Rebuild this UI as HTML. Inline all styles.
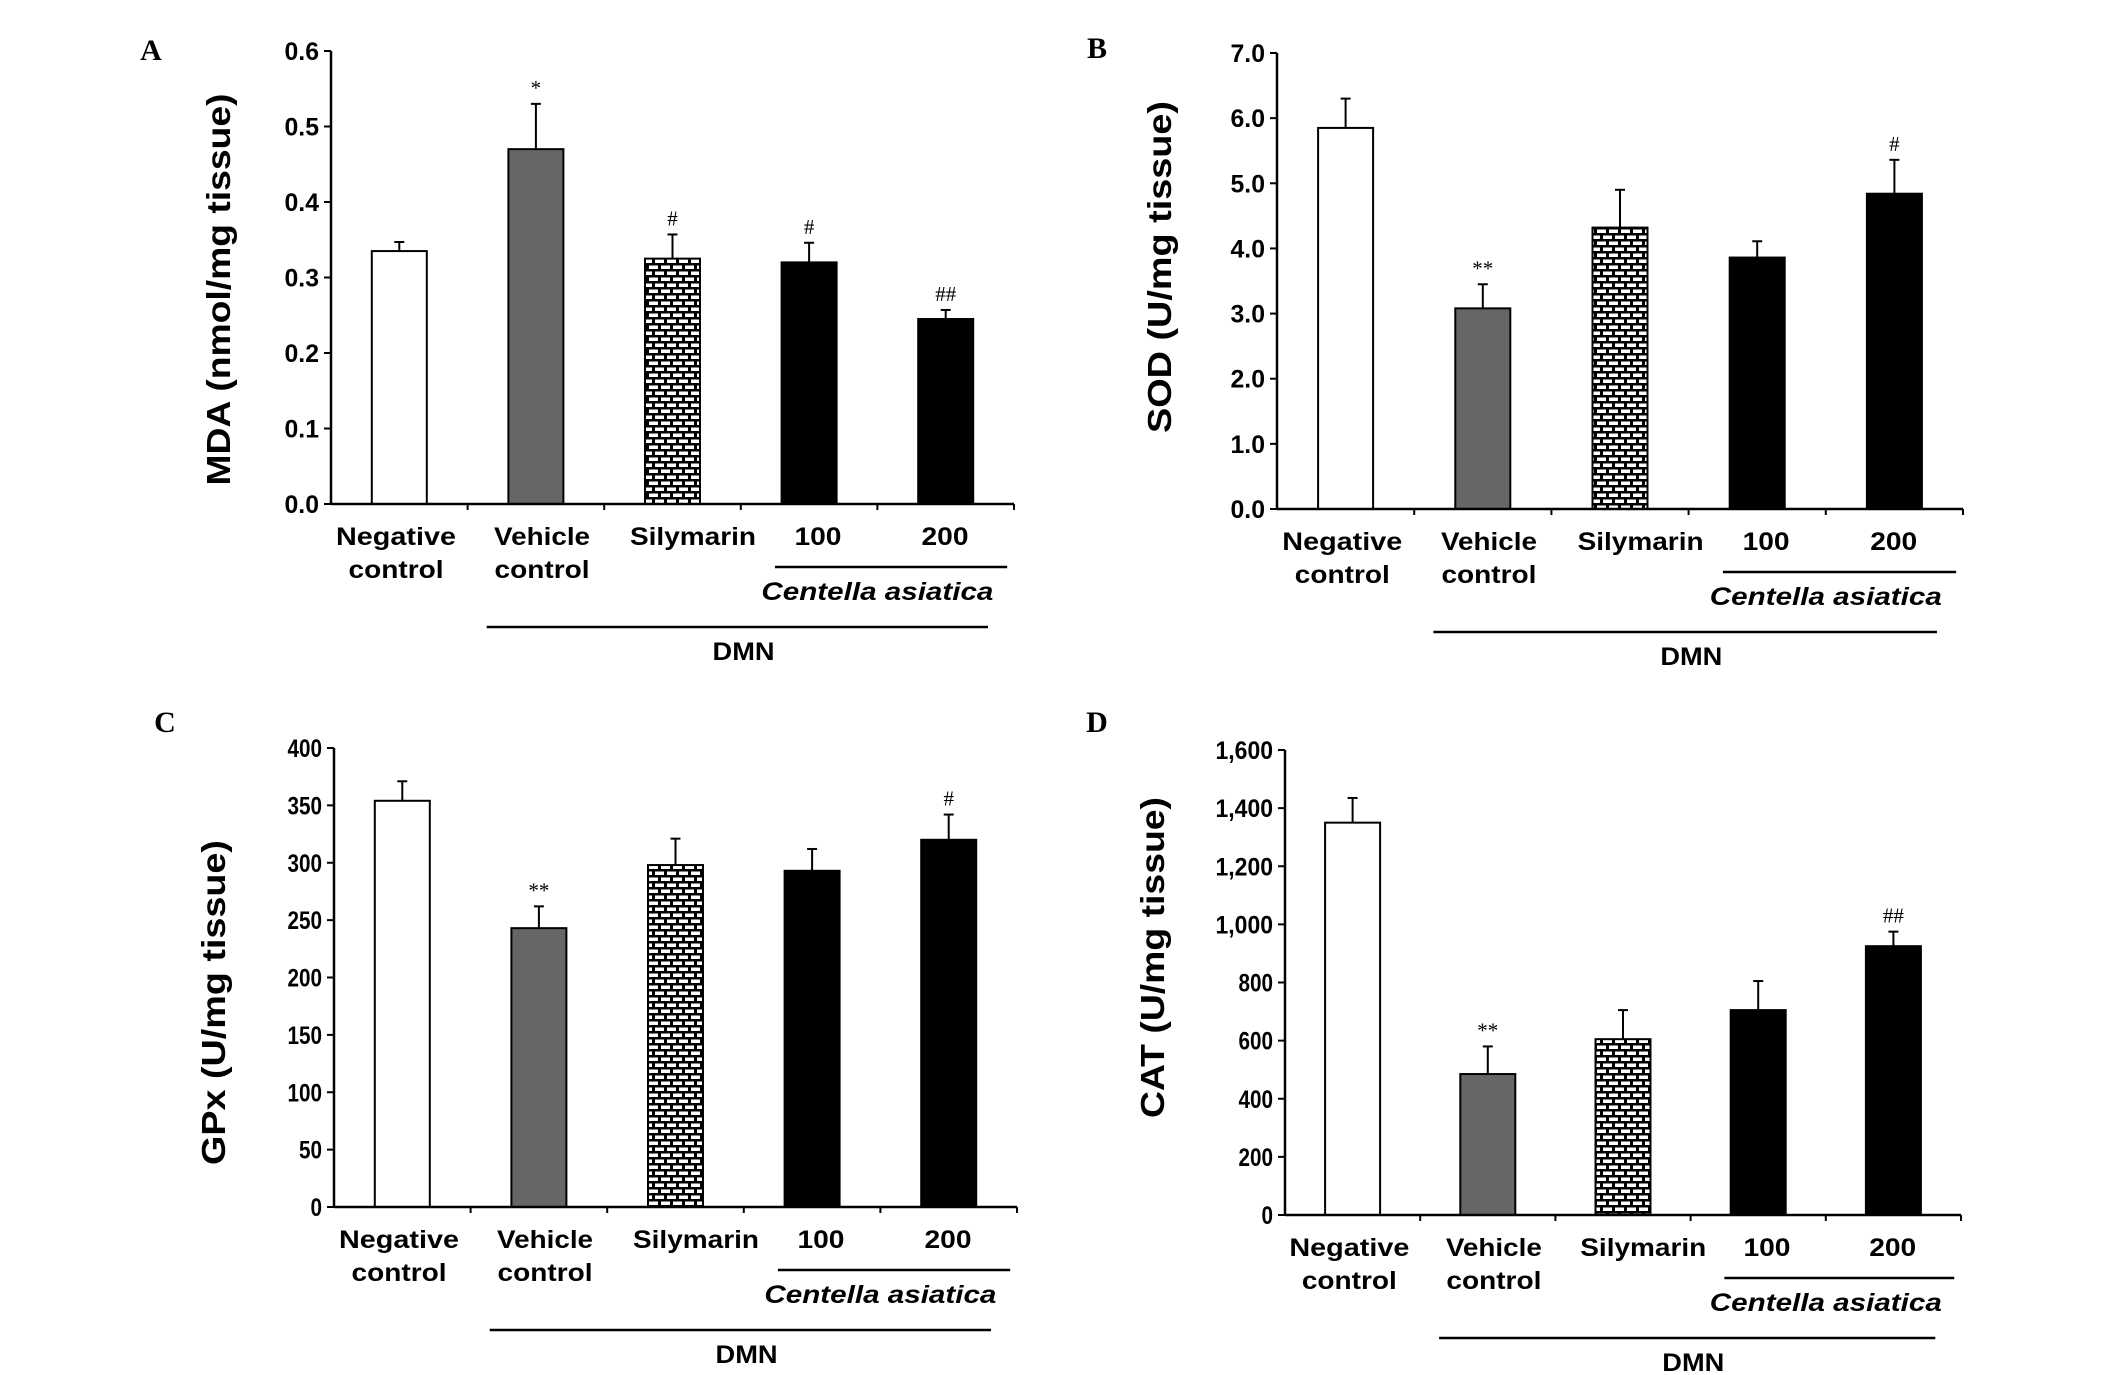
<!DOCTYPE html>
<html><head><meta charset="utf-8"><style>
html,body{margin:0;padding:0;background:#fff;}
svg{display:block;}
</style></head><body>
<svg id="fig" width="2126" height="1375" viewBox="0 0 2126 1375" xmlns="http://www.w3.org/2000/svg">
<defs>
<pattern id="brick" width="12" height="12" patternUnits="userSpaceOnUse">
<rect width="12" height="12" fill="#000"/>
<rect x="1" y="1.5" width="9" height="3.5" fill="#fff"/>
<rect x="7" y="7.5" width="9" height="3.5" fill="#fff"/>
<rect x="-5" y="7.5" width="9" height="3.5" fill="#fff"/>
</pattern>
</defs>
</svg>
<script>
const categories = ["Negative control","Vehicle control","Silymarin","100","200"];
const mdaValues = [0.335,0.47,0.325,0.32,0.245];
const mdaErrors = [0.012,0.06,0.032,0.026,0.012];
const mdaMarks = ["","*","#","#","##"];
const mdaTicks = [0,0.1,0.2,0.3,0.4,0.5,0.6];
const sodValues = [5.85,3.08,4.32,3.86,4.84];
const sodErrors = [0.45,0.37,0.58,0.25,0.52];
const sodMarks = ["","**","","","#"];
const sodTicks = [0,1,2,3,4,5,6,7];
const gpxValues = [354,243,298,293,320];
const gpxErrors = [17,19,23,19,22];
const gpxMarks = ["","**","","","#"];
const gpxTicks = [0,50,100,150,200,250,300,350,400];
const catValues = [1350,485,605,705,925];
const catErrors = [85,95,100,100,50];
const catMarks = ["","**","","","##"];
const catTicks = [0,200,400,600,800,1000,1200,1400,1600];

const NS="http://www.w3.org/2000/svg";
const fig=document.getElementById('fig');
function mk(tag,attrs,parent,text){const e=document.createElementNS(NS,tag);for(const k in attrs)e.setAttribute(k,attrs[k]);if(text!==undefined)e.textContent=text;(parent||fig).appendChild(e);return e;}
const SANS='"Liberation Sans", Arial, sans-serif';
const SERIF='"Liberation Serif", "Times New Roman", serif';
const fills=["#fff","#666","url(#brick)","#000","#000"];
const labelPos=[0.476,1.545,2.65,3.565,4.495];

function panel(p){
  const g=mk('g',{});
  
  
  const band=(p.x1-p.x0)/5;
  const ymax=p.ticks[p.ticks.length-1];
  const ys=v=>p.y0-(v/ymax)*(p.y0-p.yTop);
  const xs=i=>p.x0+band*(i+0.5);
  const letter=mk('text',{x:p.lx,y:p.ly,'font-family':SERIF,'font-weight':'bold','font-size':30,'text-anchor':'middle'},g,p.letter);
  
  
  p.values.forEach((v,i)=>{
    const cx=xs(i), top=ys(v), etop=ys(v+p.errors[i]);
    const eb=mk('line',{x1:cx,y1:top,x2:cx,y2:etop,stroke:'#000','stroke-width':2},g);
    
    
    mk('line',{x1:cx-5,y1:etop,x2:cx+5,y2:etop,stroke:'#000','stroke-width':2},g);
    const r=mk('rect',{x:cx-27.5,y:top,width:55,height:p.y0-top,fill:fills[i],stroke:'#000','stroke-width':2},g);
    
    
    if(p.marks[i]){
      const m=mk('text',{x:cx,y:etop-9,'font-family':SERIF,'font-size':21,'text-anchor':'middle'},g,p.marks[i]);
      
      
    }
  });
  const ya=mk('line',{x1:p.x0,y1:p.y0,x2:p.x0,y2:p.yTop,stroke:'#000','stroke-width':2.5},g);
  
  
  const xa=mk('line',{x1:p.x0,y1:p.y0,x2:p.x1,y2:p.y0,stroke:'#000','stroke-width':2.5},g);
  
  
  for(let i=1;i<=5;i++){mk('line',{x1:p.x0+band*i,y1:p.y0,x2:p.x0+band*i,y2:p.y0+6,stroke:'#000','stroke-width':2},g);}
  p.ticks.forEach(t=>{
    const y=ys(t);
    mk('line',{x1:p.x0-7,y1:y,x2:p.x0,y2:y,stroke:'#000','stroke-width':2},g);
    const s=p.fmt(t);
    const tl=mk('text',{x:p.x0-12,y:y+9,'font-family':SANS,'font-weight':'bold','font-size':25,'text-anchor':'end',textLength:s.length*11.5,lengthAdjust:'spacingAndGlyphs'},g,s);
    
    
  });
  categories.forEach((c,i)=>{
    const cx=p.x0+band*labelPos[i];
    const single=(i>=2);
    const lines=single?[c]:c.split(' ');
    lines.forEach((ln,j)=>{
      const w={Negative:120,control:95,Vehicle:96,Silymarin:126,"100":47,"200":47}[ln]||80;
      const t=mk('text',{x:cx,y:p.y0+41+j*33,'font-family':SANS,'font-weight':'bold','font-size':25,'text-anchor':'middle',textLength:w,lengthAdjust:'spacingAndGlyphs'},g,ln);
      
      
    });
  });
  const cl=mk('line',{x1:p.x0+band*3.25,y1:p.y0+63,x2:p.x0+band*4.95,y2:p.y0+63,stroke:'#000','stroke-width':2.5},g);
  
  
  const ct=mk('text',{x:p.x0+band*4.0,y:p.y0+96,'font-family':SANS,'font-weight':'bold','font-style':'italic','font-size':25,'text-anchor':'middle',textLength:232,lengthAdjust:'spacingAndGlyphs'},g,'Centella asiatica');
  
  
  const dl=mk('line',{x1:p.x0+band*1.14,y1:p.y0+123,x2:p.x0+band*4.81,y2:p.y0+123,stroke:'#000','stroke-width':2.5},g);
  
  
  const dt=mk('text',{x:p.x0+band*3.02,y:p.y0+156,'font-family':SANS,'font-weight':'bold','font-size':25,'text-anchor':'middle',textLength:62,lengthAdjust:'spacingAndGlyphs'},g,'DMN');
  
  
  const cy=(p.y0+p.yTop)/2+p.tdy;
  const yt=mk('text',{x:0,y:0,transform:`translate(${p.tx+12},${cy}) rotate(-90)`,'font-family':SANS,'font-weight':'bold','font-size':33,'text-anchor':'middle',textLength:p.tlen,lengthAdjust:'spacingAndGlyphs'},g,p.title);
  
  
}
const f1=v=>v.toFixed(1);
const f0=v=>v.toLocaleString('en-US');
panel({letter:'A',lx:151,ly:60,x0:331,x1:1014,y0:504,yTop:51,ticks:mdaTicks,values:mdaValues,errors:mdaErrors,marks:mdaMarks,fmt:f1,title:'MDA (nmol/mg tissue)',tx:218,tdy:12,tlen:392});
panel({letter:'B',lx:1097,ly:58,x0:1277,x1:1963,y0:509,yTop:53,ticks:sodTicks,values:sodValues,errors:sodErrors,marks:sodMarks,fmt:f1,title:'SOD  (U/mg tissue)',tx:1159,tdy:-14,tlen:332});
panel({letter:'C',lx:165,ly:732,x0:334,x1:1017,y0:1207,yTop:748,ticks:gpxTicks,values:gpxValues,errors:gpxErrors,marks:gpxMarks,fmt:f0,title:'GPx (U/mg tissue)',tx:213,tdy:25,tlen:325});
panel({letter:'D',lx:1097,ly:732,x0:1285,x1:1961,y0:1215,yTop:750,ticks:catTicks,values:catValues,errors:catErrors,marks:catMarks,fmt:f0,title:'CAT (U/mg tissue)',tx:1152,tdy:-25,tlen:321});
</script>
</body></html>
